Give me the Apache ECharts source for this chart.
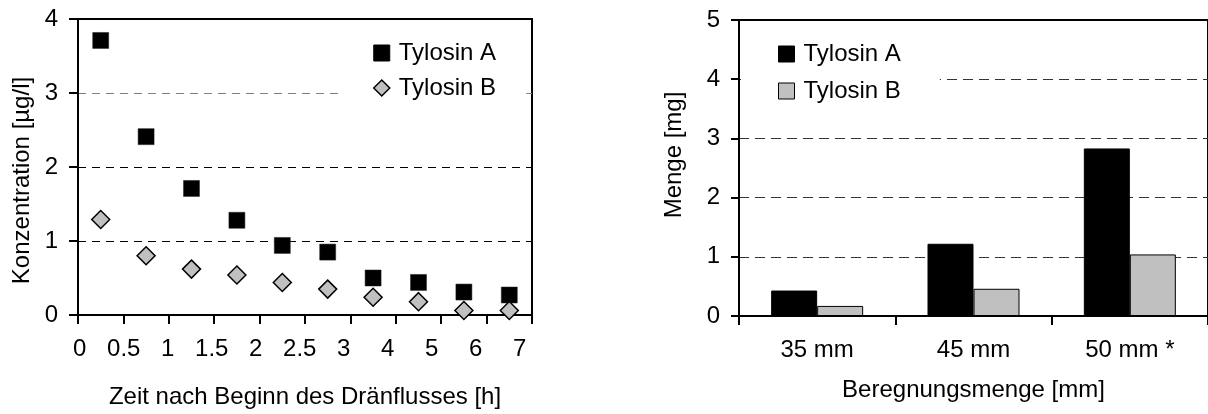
<!DOCTYPE html>
<html>
<head>
<meta charset="utf-8">
<script src="https://cdn.jsdelivr.net/npm/echarts@6/dist/echarts.min.js"></script>
<style>
html,body{margin:0;padding:0;background:#fff;}
#chart{width:1208px;height:414px;}
</style>
</head>
<body>
<div id="chart"></div>
<script>
// ---- Left chart: concentration over time ----
const tickHours = [0, 0.5, 1, 1.5, 2, 2.5, 3, 4, 5, 6, 7];
const tickLabels = ['0', '0.5', '1', '1.5', '2', '2.5', '3', '4', '5', '6', '7'];
const sampleHours = [0.25, 0.75, 1.25, 1.75, 2.25, 2.75, 3.5, 4.5, 5.5, 6.5];
const concTylosinA = [3.71, 2.41, 1.71, 1.28, 0.94, 0.85, 0.50, 0.44, 0.31, 0.27];
const concTylosinB = [1.29, 0.80, 0.62, 0.54, 0.44, 0.35, 0.24, 0.18, 0.06, 0.06];

// ---- Right chart: amount per irrigation ----
const rainCategories = ['35 mm', '45 mm', '50 mm *'];
const amountTylosinA = [0.43, 1.22, 2.83];
const amountTylosinB = [0.17, 0.46, 1.04];

const seriesNames = ['Tylosin A', 'Tylosin B'];
const FONT = 'Liberation Sans, Arial, sans-serif';

// Non-uniform time axis: each tick label is one equal step on the axis
function hourToSlot(h) {
  for (let i = 0; i < tickHours.length - 1; i++) {
    if (h >= tickHours[i] && h <= tickHours[i + 1]) {
      return i + (h - tickHours[i]) / (tickHours[i + 1] - tickHours[i]);
    }
  }
  return tickHours.length - 1;
}
const slotIdx = tickLabels.map((_, i) => i);

const chart = echarts.init(document.getElementById('chart'), null, {renderer: 'canvas'});
const txt = {color: '#000', fontFamily: FONT, fontSize: 24};

const option = {
  animation: false,
  backgroundColor: '#fff',
  textStyle: {fontFamily: FONT},
  grid: [
    {left: 78, top: 19, width: 454, height: 297, show: true, borderColor: '#000', borderWidth: 2, backgroundColor: 'transparent'},
    {left: 739, top: 20, width: 474, height: 296, show: true, borderColor: '#000', borderWidth: 2, backgroundColor: 'transparent'}
  ],
  xAxis: [
    {
      type: 'value', gridIndex: 0, min: 0, max: tickLabels.length - 1, interval: 1,
      axisLine: {lineStyle: {color: '#000', width: 2}},
      axisTick: {show: true, length: 9, lineStyle: {color: '#000', width: 2}},
      axisLabel: {show: false},
      splitLine: {show: false},
      name: 'Zeit nach Beginn des Dränflusses [h]',
      nameLocation: 'middle', nameGap: 70,
      nameTextStyle: Object.assign({}, txt)
    },
    {
      // label track: Excel spaces the tick labels slightly tighter than the ticks
      type: 'value', gridIndex: 0, position: 'bottom', min: -0.04, max: 10.28,
      axisLine: {show: false}, axisTick: {show: false}, splitLine: {show: false},
      axisLabel: Object.assign({
        customValues: slotIdx, margin: 22,
        formatter: v => tickLabels[Math.round(v)]
      }, txt)
    },
    {
      type: 'category', gridIndex: 1, data: rainCategories,
      axisLine: {lineStyle: {color: '#000', width: 2}},
      axisTick: {show: true, length: 9, alignWithLabel: false, lineStyle: {color: '#000', width: 2}},
      axisLabel: Object.assign({margin: 22}, txt),
      splitLine: {show: false},
      name: 'Beregnungsmenge [mm]',
      nameLocation: 'middle', nameGap: 62,
      nameTextStyle: Object.assign({}, txt)
    }
  ],
  yAxis: [
    {
      type: 'value', gridIndex: 0, min: 0, max: 4, interval: 1,
      axisLine: {show: true, lineStyle: {color: '#000', width: 2}},
      axisTick: {show: true, length: 9, lineStyle: {color: '#000', width: 2}},
      axisLabel: Object.assign({margin: 20}, txt),
      splitLine: {show: true, showMinLine: true, showMaxLine: true,
        lineStyle: {color: ['#000', '#000', '#000', '#808080', '#000'], width: 1, type: [8, 6]}},
      name: 'Konzentration [µg/l]',
      nameLocation: 'middle', nameGap: 44,
      nameTextStyle: Object.assign({padding: [0, 27, 0, 0]}, txt)
    },
    {
      type: 'value', gridIndex: 1, min: 0, max: 5, interval: 1,
      axisLine: {show: true, lineStyle: {color: '#000', width: 2}},
      axisTick: {show: true, length: 8, lineStyle: {color: '#000', width: 2}},
      axisLabel: Object.assign({margin: 19}, txt),
      splitLine: {show: true, showMinLine: false, showMaxLine: false,
        lineStyle: {color: '#333', width: 1, type: [10, 6]}},
      name: 'Menge [mg]',
      nameLocation: 'middle', nameGap: 53,
      nameTextStyle: Object.assign({padding: [0, 0, 0, 26]}, txt)
    }
  ],
  legend: [
    {
      orient: 'vertical', left: 340, top: 29,
      padding: [12, 30, 12, 33], itemGap: 11,
      itemWidth: 16, itemHeight: 16,
      backgroundColor: '#fff',
      textStyle: Object.assign({padding: [0, 0, 0, 4], lineHeight: 24}, txt),
      data: [
        {name: seriesNames[0], icon: 'rect', itemStyle: {color: '#000', borderColor: '#000', borderWidth: 1, opacity: 1}},
        {name: seriesNames[1], icon: 'diamond', itemStyle: {color: '#c0c0c0', borderColor: '#000', borderWidth: 1.5, opacity: 1}}
      ]
    },
    {
      orient: 'vertical', left: 741, top: 30,
      padding: [12, 39, 12, 37], itemGap: 13,
      itemWidth: 16, itemHeight: 16,
      backgroundColor: '#fff',
      textStyle: Object.assign({padding: [0, 0, 0, 4], lineHeight: 24}, txt),
      data: [
        {name: seriesNames[0], icon: 'rect', itemStyle: {color: '#000', borderColor: '#000', borderWidth: 1, opacity: 1}},
        {name: seriesNames[1], icon: 'rect', itemStyle: {color: '#c0c0c0', borderColor: '#000', borderWidth: 1, opacity: 1}}
      ]
    }
  ],
  series: [
    {
      name: seriesNames[0], type: 'scatter', xAxisIndex: 0, yAxisIndex: 0,
      symbol: 'rect', symbolSize: 16,
      itemStyle: {color: '#000', borderColor: '#222', borderWidth: 0.5, opacity: 1},
      data: sampleHours.map((h, i) => [hourToSlot(h), concTylosinA[i]])
    },
    {
      name: seriesNames[1], type: 'scatter', xAxisIndex: 0, yAxisIndex: 0,
      symbol: 'diamond', symbolSize: 18,
      itemStyle: {color: '#c0c0c0', borderColor: '#000', borderWidth: 1.5, opacity: 1},
      data: sampleHours.map((h, i) => [hourToSlot(h), concTylosinB[i]])
    },
    {
      name: seriesNames[0], type: 'bar', xAxisIndex: 2, yAxisIndex: 1,
      barWidth: 46, barGap: '0%',
      itemStyle: {color: '#000', borderColor: '#000', borderWidth: 1},
      data: amountTylosinA
    },
    {
      name: seriesNames[1], type: 'bar', xAxisIndex: 2, yAxisIndex: 1,
      barWidth: 46, barGap: '0%',
      itemStyle: {color: '#c0c0c0', borderColor: '#000', borderWidth: 1},
      data: amountTylosinB
    }
  ]
};
chart.setOption(option);
</script>
</body>
</html>
